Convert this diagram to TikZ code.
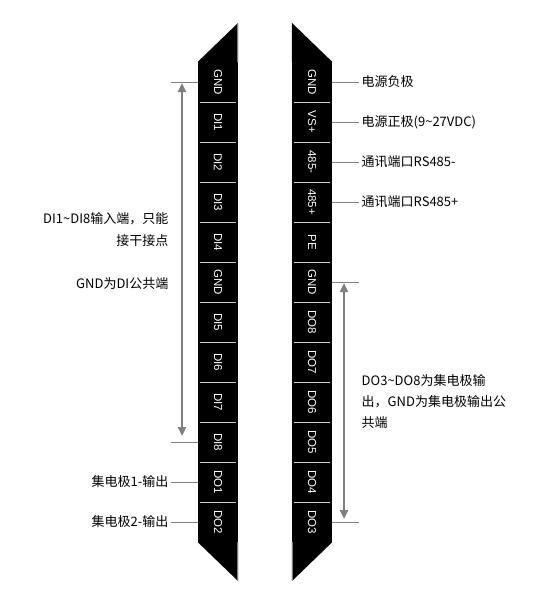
\documentclass[tikz,border=0pt]{standalone}
\usepackage{fontspec}
\setmainfont{Liberation Sans}
\newfontfamily\cjk{Noto Sans CJK SC}
\usetikzlibrary{arrows.meta}
\begin{document}
\begin{tikzpicture}[x=1pt,y=-1pt,
  cell/.style={fill=black, minimum width=40pt, minimum height=40pt, inner sep=0pt,
    text=white, font=\fontsize{11.5}{12}\selectfont},
  lbl/.style={font=\cjk\fontsize{13}{15}\selectfont, text=black, inner ysep=0pt, inner xsep=2.5pt},
  leader/.style={draw=gray, line width=1pt},
  divider/.style={draw=black!20, line width=1pt},
  edgeline/.style={draw=gray, line width=0.8pt},
  dim/.style={draw=gray, line width=2.5pt,
    {Triangle[width=8pt,length=9pt]}-{Triangle[width=8pt,length=9pt]}}]
\useasboundingbox (0,0) rectangle (544,605);

% left strip
\foreach \t [count=\i] in {GND,DI1,DI2,DI3,DI4,GND,DI5,DI6,DI7,DI8,DO1,DO2}
  \node[cell] (L\i) at (218,{82+40*(\i-1)}) {\rotatebox{-90}{\t}};
% right strip
\foreach \t [count=\i] in {GND,VS+,485-,485+,PE,GND,DO8,DO7,DO6,DO5,DO4,DO3}
  \node[cell] (R\i) at (312,{82+40*(\i-1)}) {\rotatebox{-90}{\t}};

% dividers
\foreach \i in {1,...,11} {
  \draw[divider] ([xshift=2pt]L\i.south west) -- ([xshift=-2pt]L\i.south east);
  \draw[divider] ([xshift=2pt]R\i.south west) -- ([xshift=-2pt]R\i.south east);
}

% chevrons
\fill[black] (L1.north west) -- ([yshift=39pt]L1.north east) -- (L1.north east) -- cycle;
\fill[black] (L12.south west) -- (L12.south east) -- ([yshift=-39pt]L12.south east) -- cycle;
\fill[black] (R1.north east) -- ([yshift=39pt]R1.north west) -- (R1.north west) -- cycle;
\fill[black] (R12.south west) -- (R12.south east) -- ([yshift=-39pt]R12.south west) -- cycle;
\draw[edgeline] ([xshift=-0.4pt]L1.north east) -- ([xshift=-0.4pt,yshift=39pt]L1.north east);
\draw[edgeline] ([xshift=-0.4pt]L12.south east) -- ([xshift=-0.4pt,yshift=-39pt]L12.south east);
\draw[edgeline] ([xshift=0.4pt]R12.south west) -- ([xshift=0.4pt,yshift=-39pt]R12.south west);

% left leaders
\coordinate (tL1) at (171,82);
\coordinate (tL10) at (171,442);
\draw[leader] (tL1) -- (L1.west);
\draw[leader] (tL10) -- (L10.west);
\node[lbl, anchor=east] (c1) at (171,482) {集电极1-输出};
\node[lbl, anchor=east] (c2) at (171,522) {集电极2-输出};
\draw[leader] (c1.east) -- (L11.west);
\draw[leader] (c2.east) -- (L12.west);
\coordinate (aL1) at (182,83);
\coordinate (aL2) at (182,436);
\draw[dim] (aL1) -- (aL2);
\node[lbl, anchor=east] (tA1) at (171,219) {DI1\textasciitilde DI8输入端，只能};
\node[lbl, anchor=east] (tA2) at (171,241) {接干接点};
\node[lbl, anchor=east] (tA3) at (171,284) {GND为DI公共端};

% right leaders
\node[lbl, anchor=west] (p1) at (359,82) {电源负极};
\node[lbl, anchor=west] (p2) at (359,122) {电源正极(9\textasciitilde 27VDC)};
\node[lbl, anchor=west] (p3) at (359,162) {通讯端口RS485-};
\node[lbl, anchor=west] (p4) at (359,202) {通讯端口RS485+};
\draw[leader] (R1.east) -- (p1.west);
\draw[leader] (R2.east) -- (p2.west);
\draw[leader] (R3.east) -- (p3.west);
\draw[leader] (R4.east) -- (p4.west);
\coordinate (tR6) at (359,282);
\coordinate (tR12) at (359,522);
\draw[leader] (R6.east) -- (tR6);
\draw[leader] (R12.east) -- (tR12);
\coordinate (aR1) at (344,283);
\coordinate (aR2) at (344,519);
\draw[dim] (aR1) -- (aR2);
\node[lbl, anchor=west] (tB1) at (359,381) {DO3\textasciitilde DO8为集电极输};
\node[lbl, anchor=west] (tB2) at (359,402) {出，GND为集电极输出公};
\node[lbl, anchor=west] (tB3) at (359,423) {共端};
\end{tikzpicture}
\end{document}
